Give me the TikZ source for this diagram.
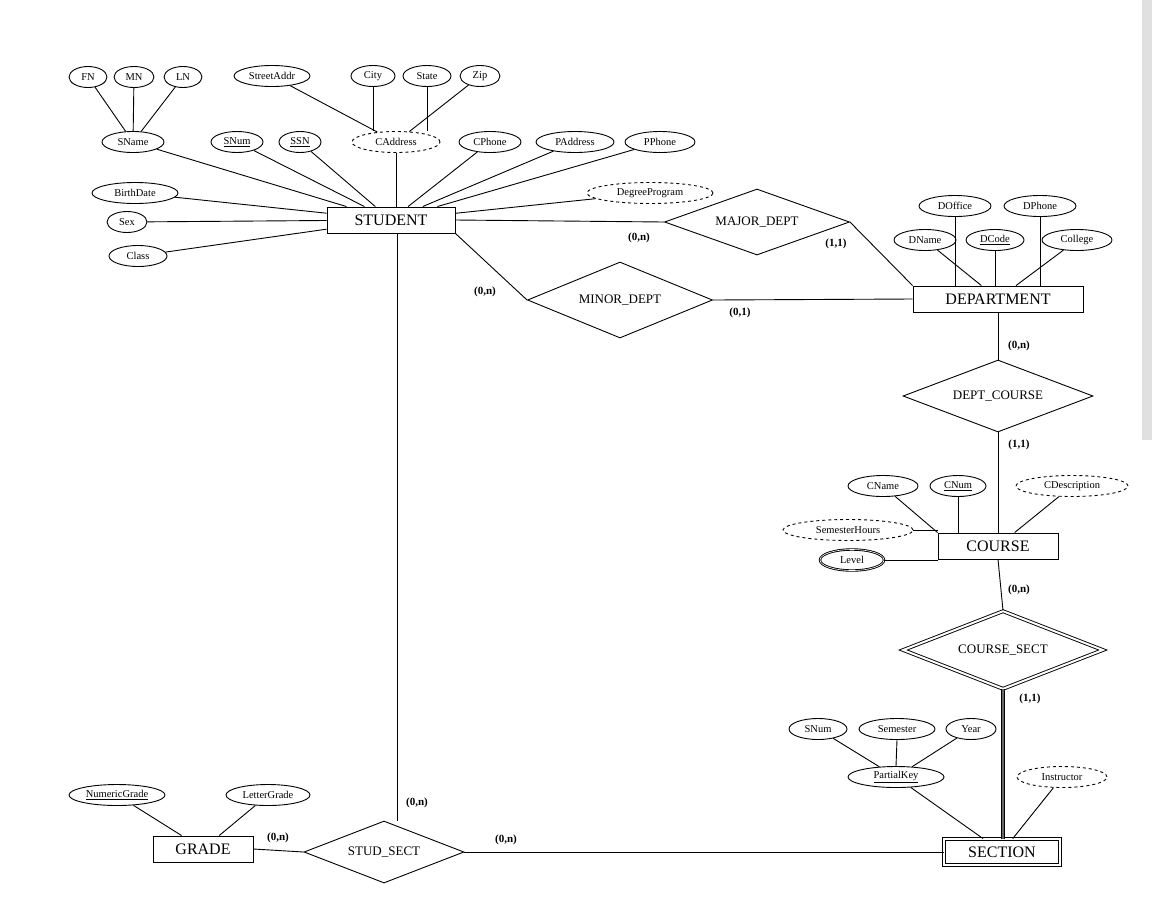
\documentclass[tikz,border=0pt]{standalone}
\usepackage{fontspec}
\setmainfont{Liberation Serif}
\usetikzlibrary{shapes.geometric,shapes.multipart,calc}
\begin{document}
\begin{tikzpicture}[x=1pt,y=-1pt,
 attr/.style={draw,ellipse,inner sep=0pt,minimum height=21pt,font=\fontsize{10.5}{11}\selectfont},
 dattr/.style={attr,dashed},
 ent/.style={draw,rectangle,minimum height=26pt,font=\fontsize{16}{18}\selectfont,inner xsep=6pt},
 rel/.style={draw,diamond,aspect=2.8,inner sep=1pt,font=\fontsize{13}{15}\selectfont},
 card/.style={font=\bfseries\fontsize{11}{12}\selectfont},
 every path/.style={line width=0.9pt}]
\useasboundingbox (0,0) rectangle (1158,919);
\fill[black!12] (1142,0) rectangle (1152,440);
% entities
\node[ent,minimum width=128pt] (stu) at (391,220) {STUDENT};
\node[ent,minimum width=170pt] (dep) at (998,299) {DEPARTMENT};
\node[ent,minimum width=120pt] (cou) at (998,546) {COURSE};
\node[ent,minimum width=116pt,double,double distance=2pt] (sec) at (1002,852) {SECTION};
\node[ent,minimum width=100pt] (gra) at (203,849) {GRADE};
% relationships
\node[rel,minimum width=185pt,minimum height=66pt] (maj) at (757,222) {MAJOR\_DEPT};
\node[rel,minimum width=185pt,minimum height=76pt] (min) at (620,300) {MINOR\_DEPT};
\node[rel,minimum width=190pt,minimum height=72pt] (dc) at (998,396) {DEPT\_COURSE};
\node[rel,minimum width=200pt,minimum height=78pt,double,double distance=2pt] (cs) at (1003,650) {COURSE\_SECT};
\node[rel,minimum width=160pt,minimum height=62pt] (ss) at (384,852) {STUD\_SECT};
% student attributes
\node[attr,minimum width=38pt] (fn) at (88,77) {FN};
\node[attr,minimum width=40pt] (mn) at (134,77) {MN};
\node[attr,minimum width=38pt] (ln) at (183,77) {LN};
\node[attr,minimum width=76pt] (sa) at (272,76) {StreetAddr};
\node[attr,minimum width=44pt] (city) at (373,76) {City};
\node[attr,minimum width=48pt] (st) at (427,76) {State};
\node[attr,minimum width=40pt] (zip) at (480,76) {Zip};
\node[attr,minimum width=62pt] (sn) at (133,142) {SName};
\node[attr,minimum width=52pt] (snum) at (237,142) {\underline{SNum}};
\node[attr,minimum width=42pt] (ssn) at (300,142) {\underline{SSN}};
\node[dattr,minimum width=88pt] (cad) at (396,142) {CAddress};
\node[attr,minimum width=62pt] (cph) at (490,142) {CPhone};
\node[attr,minimum width=78pt] (pad) at (575,142) {PAddress};
\node[attr,minimum width=70pt] (pph) at (660,142) {PPhone};
\node[attr,minimum width=86pt] (bd) at (135,193) {BirthDate};
\node[attr,minimum width=40pt] (sex) at (127,222) {Sex};
\node[attr,minimum width=58pt] (cls) at (138,256) {Class};
\node[dattr,minimum width=126pt] (dp) at (650,193) {DegreeProgram};
% department attributes
\node[attr,minimum width=72pt] (dof) at (955,206) {DOffice};
\node[attr,minimum width=72pt] (dph) at (1040,206) {DPhone};
\node[attr,minimum width=62pt] (dna) at (925,240) {DName};
\node[attr,minimum width=58pt] (dco) at (995,240) {\underline{DCode}};
\node[attr,minimum width=70pt] (col) at (1077,240) {College};
% course attributes
\node[attr,minimum width=70pt] (cna) at (883,486) {CName};
\node[attr,minimum width=56pt] (cnu) at (958,486) {\underline{CNum}};
\node[dattr,minimum width=112pt] (cde) at (1072,486) {CDescription};
\node[dattr,minimum width=130pt] (sh) at (848,530) {SemesterHours};
\node[attr,minimum width=64pt,double] (lev) at (852,560) {Level};
% section attributes
\node[attr,minimum width=58pt] (snum2) at (818,729) {SNum};
\node[attr,minimum width=76pt] (sem) at (897,729) {Semester};
\node[attr,minimum width=50pt] (yr) at (971,729) {Year};
\node[attr,minimum width=96pt] (pk) at (896,777) {\underline{PartialKey}};
\node[dattr,minimum width=90pt] (ins) at (1062,777) {Instructor};
% grade attributes
\node[attr,minimum width=96pt] (ng) at (117,795) {\underline{NumericGrade}};
\node[attr,minimum width=84pt] (lg) at (268,795) {LetterGrade};
% attribute links
\draw (fn) -- (sn); \draw (mn) -- (sn); \draw (ln) -- (sn);
\draw (sa) -- (cad); \draw (city.south) -- (city.south|-cad.north); \draw (st.south) -- (st.south|-cad.north); \draw (zip) -- (cad);
\foreach \a in {sn,snum,ssn,cph,pad,pph,bd,sex,cls,dp} \draw (\a) -- (stu);
\draw (cad.south) -- (cad.south|-stu.north);
\draw (dna) -- (dep); \draw (dco.south) -- (dco.south|-dep.north);
\draw (dof.south) -- (dof.south|-dep.north); \draw (dph.south) -- (dph.south|-dep.north); \draw (col) -- (dep);
\draw (cna) -- (cou.north west); \draw (cnu.south) -- (cnu.south|-cou.north); \draw (cde) -- (cou);
\draw (sh.east) -- (sh.east-|cou.west); \draw (lev.east) -- (lev.east-|cou.west);
\draw (snum2) -- (pk); \draw (sem.south) -- (pk.north); \draw (yr) -- (pk);
\draw (pk) -- (sec); \draw (ins) -- (sec);
\draw (ng) -- (gra); \draw (lg) -- (gra);
% relationship links
\draw (stu.east) -- (maj.west);
\draw (maj.east) -- (dep.north west);
\draw (stu.south east) -- (min.west);
\draw (min.east) -- (dep.west);
\draw (dep.south) -- (dc.north);
\draw (dc.south) -- (cou.north);
\draw (cou.south) -- (cs.north);
\draw[line width=1.2pt,double=black!60,double distance=2.5pt] (cs.south) -- (cs.south|-sec.north);
\coordinate (sv) at ($(stu.south)+(6,0)$);
\draw (sv) -- (sv|-ss.north);
\draw (ss.east) -- (sec.west);
\draw (ss.west) -- (gra.east);
% cardinalities
\node[card] at (639,238) {(0,n)};
\node[card] at (836,244) {(1,1)};
\node[card] at (485,292) {(0,n)};
\node[card] at (740,313) {(0,1)};
\node[card] at (1019,346) {(0,n)};
\node[card] at (1019,445) {(1,1)};
\node[card] at (1019,590) {(0,n)};
\node[card] at (1030,699) {(1,1)};
\node[card] at (417,803) {(0,n)};
\node[card] at (278,838) {(0,n)};
\node[card] at (506,840) {(0,n)};
\end{tikzpicture}
\end{document}
